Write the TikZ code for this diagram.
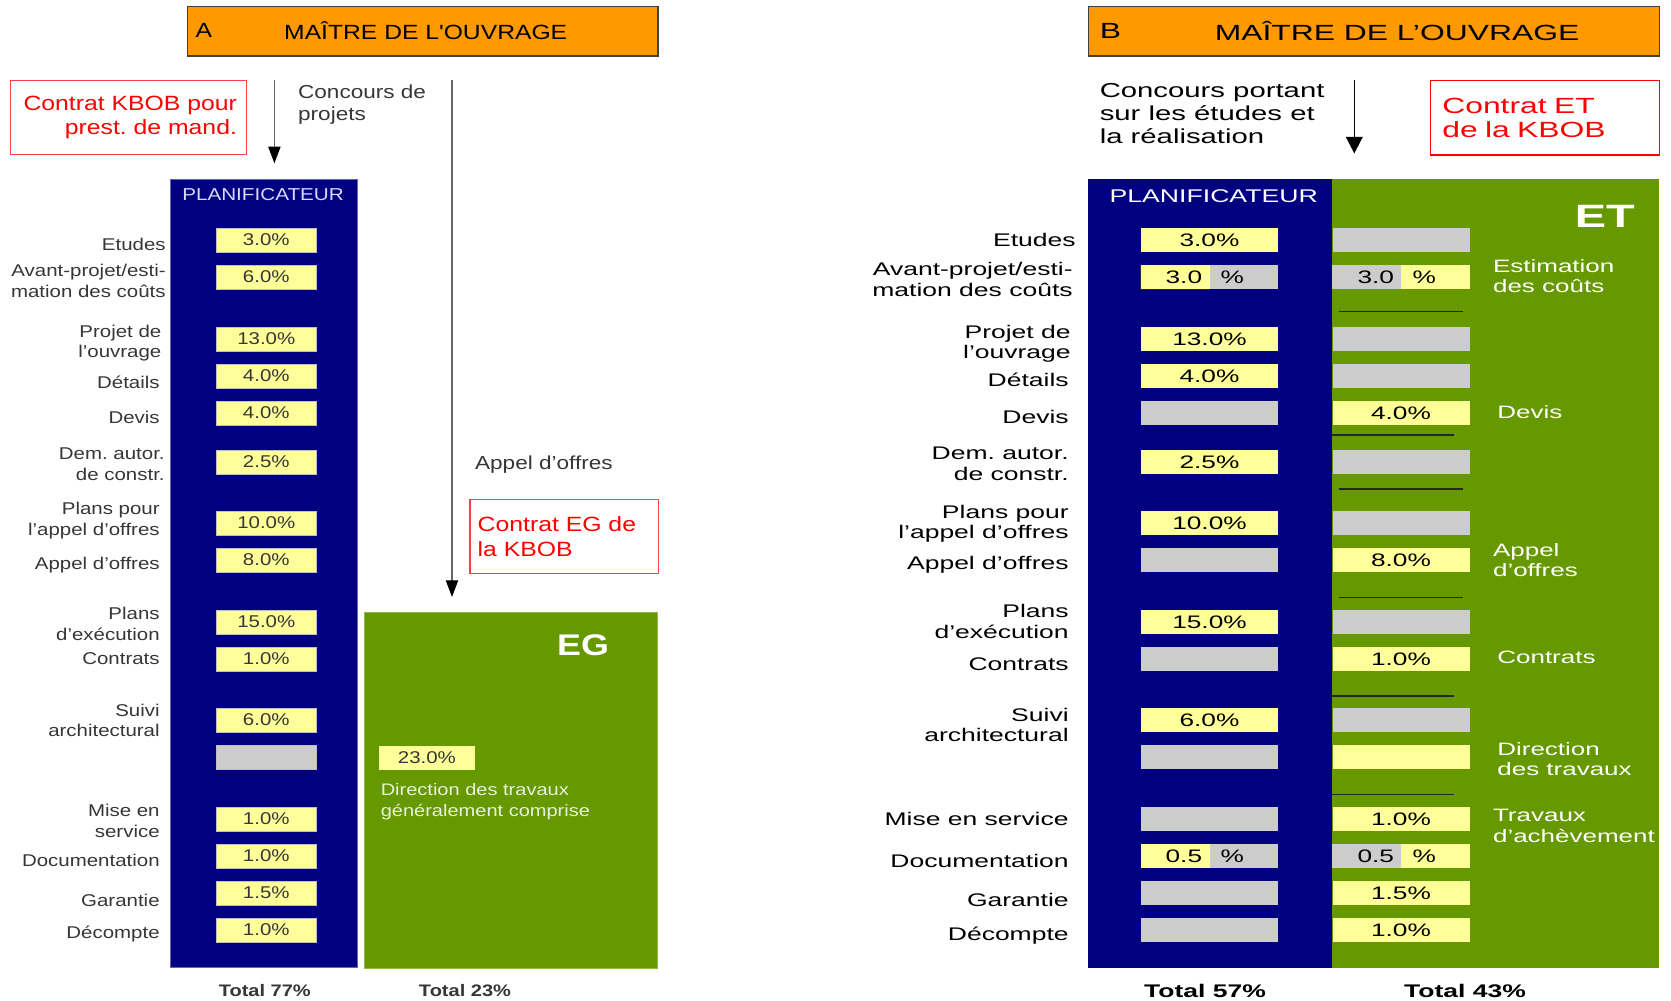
\documentclass[tikz,border=0pt]{standalone}
\usepackage{fontspec}
\usepackage{tikz}
\usetikzlibrary{arrows.meta,positioning}
\usepackage{xcolor}

\newfontfamily\afont[FakeStretch=1.2]{Liberation Sans}
\newfontfamily\atitlefont[FakeStretch=1.2,Ligatures=TeXOff]{Liberation Sans}
\newfontfamily\bfont[FakeStretch=1.45]{Liberation Sans}
\frenchspacing

\definecolor{ownerorange}{HTML}{FF9900}
\definecolor{plannavy}{HTML}{000080}
\definecolor{firmgreen}{HTML}{669900}
\definecolor{shareyellow}{HTML}{FFFF99}
\definecolor{sharegray}{HTML}{CCCCCC}
\definecolor{textgray}{HTML}{363636}
\definecolor{paletext}{HTML}{E8F0E0}

\begin{document}
\begin{tikzpicture}[
        x = 0.02cm, y = -0.02cm,
        owner/.style = {draw = black!75, line width = 0.8pt, fill = ownerorange,
            anchor = north west, inner sep = 0pt, minimum height = 1cm},
        contract/.style = {draw = red, line width = 0.8pt, text = red,
            anchor = north west, inner ysep = 0pt, minimum height = 1.48cm},
        column/.style = {anchor = north west, inner sep = 0pt, minimum height = 15.77cm},
        alabel/.style = {font = \afont\fontsize{9.7}{11.8}\selectfont, text = textgray,
            align = right, anchor = east, inner sep = 0pt},
        ashare/.style = {fill = shareyellow, draw = black!25, line width = 0.4pt,
            minimum width = 1.99cm, minimum height = 0.485cm, inner sep = 0pt,
            font = \afont\fontsize{9.7}{11.8}\selectfont, text = textgray},
        aempty/.style = {ashare, fill = sharegray},
        blabel/.style = {font = \bfont\fontsize{10.4}{11.8}\selectfont,
            align = right, anchor = east, inner sep = 0pt},
        bshare/.style = {fill = shareyellow, minimum width = 2.74cm, minimum height = 0.485cm,
            inner sep = 0pt, font = \bfont\fontsize{10.3}{11.8}\selectfont},
        bempty/.style = {bshare, fill = sharegray},
        bhalf/.style = {minimum width = 1.37cm, minimum height = 0.485cm, inner sep = 0pt},
        bsplit/.style = {inner sep = 0pt, font = \bfont\fontsize{10.3}{11.8}\selectfont},
        phase/.style = {font = \bfont\fontsize{10.2}{11.5}\selectfont, text = white,
            align = left, anchor = west, inner sep = 0pt},
        separator/.style = {line width = 0.8pt, black!85},
        aflow/.style = {line width = 0.7pt, black!60, -{Triangle[length=9.5pt,width=7pt,black]}},
        bflow/.style = {line width = 0.9pt, black, -{Triangle[length=9.5pt,width=9.5pt]}}
    ]
    \useasboundingbox (0,0) rectangle (1671,1001);

    % ---------- A ----------
    \node[owner, minimum width = 9.42cm] (a_owner) at (186.5,5.5) {};
    \node[font = \atitlefont\fontsize{11.7}{14}\selectfont, anchor = west, inner sep = 0pt] (a_owner_letter) at (195.2,30.5) {A};
    \node[font = \atitlefont\fontsize{11.7}{14}\selectfont, inner sep = 0pt] (a_owner_title) at (425.7,30.5) {MAÎTRE DE L'OUVRAGE};

    \node[contract, draw = red!75, minimum width = 4.72cm, text width = 4.34cm, inner xsep = 0.19cm,
        align = right, font = \afont\fontsize{11.75}{13.8}\selectfont] (a_kbob) at (9.8,80) {Contrat KBOB pour\\prest. de mand.};

    \coordinate (a_contest_top) at (274.4,80);
    \coordinate (a_contest_tip) at (274.4,163.3);
    \draw[aflow] (a_contest_top) -- (a_contest_tip);
    \node[font = \afont\fontsize{10.7}{12.7}\selectfont, text = textgray, align = left, anchor = west,
        inner sep = 0pt] (a_contest) at (297.8,104.5) {Concours de\\projets};

    \coordinate (a_tender_top) at (452,80);
    \coordinate (a_tender_tip) at (452,597);
    \draw[aflow] (a_tender_top) -- (a_tender_tip);
    \node[font = \afont\fontsize{10.7}{12.7}\selectfont, text = textgray, anchor = west,
        inner sep = 0pt] (a_tender) at (474.8,465) {Appel d’offres};
    \node[contract, draw = red!75, minimum width = 3.776cm, text width = 3.46cm, inner xsep = 0.158cm,
        minimum height = 1.474cm, align = left, font = \afont\fontsize{11.75}{13.8}\selectfont] (a_eg_contract) at (469.1,499) {Contrat EG de\\la KBOB};

    \node[column, fill = plannavy, draw = plannavy!60!white, line width = 0.5pt, minimum width = 3.75cm] (a_plan) at (169.5,179) {};
    \node[font = \afont\fontsize{9.8}{12}\selectfont, text = white!85!blue, inner sep = 0pt] (a_plan_title) at (263,195) {PLANIFICATEUR};
    \node[column, fill = firmgreen, draw = firmgreen!70!white, line width = 0.5pt, minimum width = 5.88cm,
        minimum height = 7.11cm] (a_eg) at (363.5,612.3) {};
    \node[font = \afont\bfseries\fontsize{17}{20}\selectfont, text = white, inner sep = 0pt] (a_eg_title) at (583,645) {EG};
    \node[ashare, draw = none, minimum width = 1.93cm] (a_eg_pct) at (426.9,757.8) {23.0\%};
    \node[font = \afont\fontsize{9.5}{11.8}\selectfont, text = paletext, align = left, anchor = west,
        inner sep = 0pt] (a_eg_note) at (380.4,802) {Direction des travaux\\généralement comprise};

    \node[alabel] (a_etudes) at (166,244) {Etudes};
    \node[ashare] (a_etudes_pct) at (266.3,240) {3.0\%};
    \node[alabel] (a_avant) at (166,281) {Avant-projet/esti-\\mation des coûts};
    \node[ashare] (a_avant_pct) at (266.3,277) {6.0\%};
    \node[alabel] (a_projet) at (161.7,343) {Projet de\\l’ouvrage};
    \node[ashare] (a_projet_pct) at (266.3,339) {13.0\%};
    \node[alabel] (a_details) at (160,382) {Détails};
    \node[ashare] (a_details_pct) at (266.3,376) {4.0\%};
    \node[alabel] (a_devis) at (160,417) {Devis};
    \node[ashare] (a_devis_pct) at (266.3,413) {4.0\%};
    \node[alabel] (a_permit) at (165,464) {Dem. autor.\\de constr.};
    \node[ashare] (a_permit_pct) at (266.3,462) {2.5\%};
    \node[alabel] (a_tenderplans) at (160,520.3) {Plans pour\\l’appel d’offres};
    \node[ashare] (a_tenderplans_pct) at (266.3,523) {10.0\%};
    \node[alabel] (a_tendering) at (160,565) {Appel d’offres};
    \node[ashare] (a_tendering_pct) at (266.3,560) {8.0\%};
    \node[alabel] (a_execplans) at (160,623.7) {Plans\\d’exécution};
    \node[ashare] (a_execplans_pct) at (266.3,622) {15.0\%};
    \node[alabel] (a_contracts) at (160,658.7) {Contrats};
    \node[ashare] (a_contracts_pct) at (266.3,659) {1.0\%};
    \node[alabel] (a_followup) at (160,720.3) {Suivi\\architectural};
    \node[ashare] (a_followup_pct) at (266.3,720) {6.0\%};
    \node[aempty] (a_sitework_pct) at (266.3,757) {};
    \node[alabel] (a_startup) at (160,821) {Mise en\\service};
    \node[ashare] (a_startup_pct) at (266.3,819) {1.0\%};
    \node[alabel] (a_docs) at (160,860.7) {Documentation};
    \node[ashare] (a_docs_pct) at (266.3,856) {1.0\%};
    \node[alabel] (a_warranty) at (160,900) {Garantie};
    \node[ashare] (a_warranty_pct) at (266.3,893) {1.5\%};
    \node[alabel] (a_account) at (160,934.3) {Décompte};
    \node[ashare] (a_account_pct) at (266.3,930) {1.0\%};

    \node[font = \afont\bfseries\fontsize{9.5}{11}\selectfont, text = textgray] (a_total_plan) at (264.8,990.7) {Total 77\%};
    \node[font = \afont\bfseries\fontsize{9.5}{11}\selectfont, text = textgray] (a_total_eg) at (465,990.7) {Total 23\%};

    % ---------- B ----------
    \node[owner, minimum width = 11.42cm] (b_owner) at (1088,5.5) {};
    \node[font = \bfont\fontsize{12.5}{15}\selectfont, anchor = west, inner sep = 0pt] (b_owner_letter) at (1099.4,31) {B};
    \node[font = \bfont\fontsize{12.5}{15}\selectfont, inner sep = 0pt] (b_owner_title) at (1397,31) {MAÎTRE DE L’OUVRAGE};

    \node[font = \bfont\fontsize{11.5}{13.1}\selectfont, align = left, anchor = west,
        inner sep = 0pt] (b_contest) at (1099.4,113.6) {Concours portant\\sur les études et\\la réalisation};
    \coordinate (b_contest_top) at (1354.3,80);
    \coordinate (b_contest_tip) at (1354.3,153.5);
    \draw[bflow] (b_contest_top) -- (b_contest_tip);
    \node[contract, minimum width = 4.59cm, text width = 4.11cm, inner xsep = 0.24cm, minimum height = 1.486cm,
        align = left, font = \bfont\fontsize{12.5}{13.8}\selectfont] (b_et_contract) at (1429.6,80) {Contrat ET\\de la KBOB};

    \node[column, fill = plannavy, minimum width = 4.88cm] (b_plan) at (1088,179) {};
    \node[column, fill = firmgreen, minimum width = 6.54cm] (b_et) at (1332,179) {};
    \node[font = \bfont\fontsize{10.45}{12}\selectfont, text = white, inner sep = 0pt] (b_plan_title) at (1213.7,196) {PLANIFICATEUR};
    \node[font = \bfont\bfseries\fontsize{18.4}{21}\selectfont, text = white, inner sep = 0pt] (b_et_title) at (1604.7,216.7) {ET};

    \node[blabel] (b_etudes) at (1076,240) {Etudes};
    \node[bshare] (b_etudes_plan) at (1209.5,240) {3.0\%};
    \node[bempty] (b_etudes_et) at (1401,240) {};

    \node[blabel] (b_avant) at (1073,279.7) {Avant-projet/esti-\\mation des coûts};
    \node[bhalf, fill = shareyellow] (b_avant_plan_a) at (1175.25,277) {};
    \node[bhalf, fill = sharegray] (b_avant_plan_b) at (1243.75,277) {};
    \draw[line width = 0.9pt, black!85] (b_avant_plan_a.north west) -- (b_avant_plan_a.south west) -- (b_avant_plan_a.south east);
    \node[bsplit] (b_avant_plan) at (1204.8,277) {3.0\hspace*{0.37cm}\%};
    \node[bhalf, fill = sharegray] (b_avant_et_a) at (1366.5,277) {};
    \node[bhalf, fill = shareyellow] (b_avant_et_b) at (1435.5,277) {};
    \node[bsplit] (b_avant_et) at (1396.7,277) {3.0\hspace*{0.37cm}\%};

    \node[blabel] (b_projet) at (1071,343.7) {Projet de\\l’ouvrage};
    \node[bshare] (b_projet_plan) at (1209.5,339) {13.0\%};
    \node[bempty] (b_projet_et) at (1401,339) {};

    \node[blabel] (b_details) at (1069,380) {Détails};
    \node[bshare] (b_details_plan) at (1209.5,376) {4.0\%};
    \node[bempty] (b_details_et) at (1401,376) {};

    \node[blabel] (b_devis) at (1069,416.7) {Devis};
    \node[bempty] (b_devis_plan) at (1209.5,413) {};
    \node[bshare] (b_devis_et) at (1401,413) {4.0\%};

    \node[blabel] (b_permit) at (1069,464) {Dem. autor.\\de constr.};
    \node[bshare] (b_permit_plan) at (1209.5,462) {2.5\%};
    \node[bempty] (b_permit_et) at (1401,462) {};

    \node[blabel] (b_tenderplans) at (1069,523.7) {Plans pour\\l’appel d’offres};
    \node[bshare] (b_tenderplans_plan) at (1209.5,523) {10.0\%};
    \node[bempty] (b_tenderplans_et) at (1401,523) {};

    \node[blabel] (b_tendering) at (1069,565) {Appel d’offres};
    \node[bempty] (b_tendering_plan) at (1209.5,560) {};
    \node[bshare] (b_tendering_et) at (1401,560) {8.0\%};

    \node[blabel] (b_execplans) at (1069,621.8) {Plans\\d’exécution};
    \node[bshare] (b_execplans_plan) at (1209.5,622) {15.0\%};
    \node[bempty] (b_execplans_et) at (1401,622) {};

    \node[blabel] (b_contracts) at (1069,664) {Contrats};
    \node[bempty] (b_contracts_plan) at (1209.5,659) {};
    \node[bshare] (b_contracts_et) at (1401,659) {1.0\%};

    \node[blabel] (b_followup) at (1069,725) {Suivi\\architectural};
    \node[bshare] (b_followup_plan) at (1209.5,720) {6.0\%};
    \node[bempty] (b_followup_et) at (1401,720) {};

    \node[bempty] (b_sitework_plan) at (1209.5,757) {};
    \node[bshare] (b_sitework_et) at (1401,757) {};

    \node[blabel] (b_startup) at (1069,819.3) {Mise en service};
    \node[bempty] (b_startup_plan) at (1209.5,819) {};
    \node[bshare] (b_startup_et) at (1401,819) {1.0\%};

    \node[blabel] (b_docs) at (1069,861) {Documentation};
    \node[bhalf, fill = shareyellow] (b_docs_plan_a) at (1175.25,856) {};
    \node[bhalf, fill = sharegray] (b_docs_plan_b) at (1243.75,856) {};
    \node[bsplit] (b_docs_plan) at (1204.8,856) {0.5\hspace*{0.37cm}\%};
    \node[bhalf, fill = sharegray] (b_docs_et_a) at (1366.5,856) {};
    \node[bhalf, fill = shareyellow] (b_docs_et_b) at (1435.5,856) {};
    \node[bsplit] (b_docs_et) at (1396.7,856) {0.5\hspace*{0.37cm}\%};

    \node[blabel] (b_warranty) at (1069,900) {Garantie};
    \node[bempty] (b_warranty_plan) at (1209.5,893) {};
    \node[bshare] (b_warranty_et) at (1401,893) {1.5\%};

    \node[blabel] (b_account) at (1069,935.3) {Décompte};
    \node[bempty] (b_account_plan) at (1209.5,930) {};
    \node[bshare] (b_account_et) at (1401,930) {1.0\%};

    % phases of the ET
    \node[phase] (b_phase_estimate) at (1492.7,276.3) {Estimation\\des coûts};
    \node[phase] (b_phase_quote) at (1497,412.3) {Devis};
    \node[phase] (b_phase_tender) at (1492.7,560) {Appel\\d’offres};
    \node[phase] (b_phase_contracts) at (1497,657.3) {Contrats};
    \node[phase] (b_phase_site) at (1497,758.7) {Direction\\des travaux};
    \node[phase] (b_phase_finish) at (1492.7,826) {Travaux\\d’achèvement};

    \draw[separator] (1339.3,311.7) -- (1463.2,311.7);
    \draw[separator] (1332,435) -- (1454.4,435);
    \draw[separator] (1339.3,489) -- (1463.2,489);
    \draw[separator] (1339.3,597.3) -- (1463.2,597.3);
    \draw[separator] (1332,696) -- (1454.4,696);
    \draw[separator] (1332,794.3) -- (1454.4,794.3);

    \node[font = \bfont\bfseries\fontsize{10.4}{12}\selectfont] (b_total_plan) at (1205,990.7) {Total 57\%};
    \node[font = \bfont\bfseries\fontsize{10.4}{12}\selectfont] (b_total_et) at (1465,990.7) {Total 43\%};
\end{tikzpicture}
\end{document}
